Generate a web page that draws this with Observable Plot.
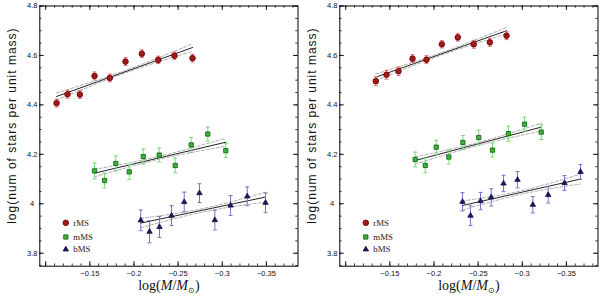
<!DOCTYPE html>
<html><head><meta charset="utf-8">
<script src="https://cdn.jsdelivr.net/npm/d3@7"></script>
<script src="https://cdn.jsdelivr.net/npm/@observablehq/plot@0.6"></script>
<style>
body{margin:0;background:#fff;}
#wrap{display:flex;width:600px;height:297px;}
</style></head><body><div id="wrap"></div>
<script>
// ---------- data ----------
const seriesNames = ["rMS", "mMS", "bMS"];
const xTitle = "log(M/M⊙)";
const yTitle = "log(num of stars per unit mass)";
const xDomain = [-0.0933, -0.3858];
const yDomain = [3.7475, 4.8];
const xMajorTicks = [-0.1, -0.15, -0.2, -0.25, -0.3, -0.35];
const xTickLabels = [-0.15, -0.2, -0.25, -0.3, -0.35];
const xMinorTicks = [-0.10, -0.11, -0.12, -0.13, -0.14, -0.15, -0.16, -0.17, -0.18, -0.19, -0.20, -0.21, -0.22, -0.23, -0.24, -0.25, -0.26, -0.27, -0.28, -0.29, -0.30, -0.31, -0.32, -0.33, -0.34, -0.35, -0.36, -0.37, -0.38];
const yMajorTicks = [3.8, 4.0, 4.2, 4.4, 4.6, 4.8];
const yMinorTicks = [3.75, 3.8, 3.85, 3.9, 3.95, 4.0, 4.05, 4.1, 4.15, 4.2, 4.25, 4.3, 4.35, 4.4, 4.45, 4.5, 4.55, 4.6, 4.65, 4.7, 4.75, 4.8];

// left panel
const leftRmsX = [-0.1123, -0.1247, -0.1387, -0.1553, -0.1726, -0.1904, -0.2089, -0.2275, -0.2459, -0.2663];
const leftRmsY = [4.407, 4.443, 4.442, 4.517, 4.509, 4.575, 4.607, 4.582, 4.599, 4.589];
const leftRmsErr = [0.016, 0.016, 0.016, 0.016, 0.016, 0.016, 0.015, 0.015, 0.015, 0.016];
const leftMmsX = [-0.1553, -0.1666, -0.1794, -0.1946, -0.2105, -0.2286, -0.2467, -0.2648, -0.2836, -0.3040];
const leftMmsY = [4.133, 4.094, 4.163, 4.129, 4.191, 4.197, 4.155, 4.238, 4.282, 4.215];
const leftMmsErr = [0.032, 0.030, 0.030, 0.030, 0.030, 0.028, 0.030, 0.030, 0.028, 0.028];
const leftBmsX = [-0.2077, -0.2176, -0.2289, -0.2425, -0.2569, -0.2742, -0.2916, -0.3094, -0.3283, -0.3490];
const leftBmsY = [3.933, 3.887, 3.906, 3.952, 4.007, 4.043, 3.934, 3.993, 4.030, 4.004];
const leftBmsErr = [0.042, 0.045, 0.042, 0.040, 0.040, 0.038, 0.040, 0.040, 0.038, 0.040];
// fitted lines [start, end] and dashed bands [start, middle, end]
const leftFitX = [[-0.1123, -0.2663], [-0.1553, -0.3040], [-0.2077, -0.3490]];
const leftFitY = [[4.434, 4.632], [4.124, 4.249], [3.922, 4.027]];
const leftBandX = [[-0.1123, -0.1893, -0.2663], [-0.1553, -0.2297, -0.3040], [-0.2077, -0.2784, -0.3490]];
const leftBandHi = [[4.448, 4.538, 4.647], [4.139, 4.193, 4.265], [3.941, 3.981, 4.047]];
const leftBandLo = [[4.420, 4.528, 4.617], [4.109, 4.181, 4.233], [3.903, 3.967, 4.007]];

// right panel
const rightRmsX = [-0.1341, -0.1462, -0.1598, -0.1757, -0.1915, -0.2089, -0.2270, -0.2451, -0.2633, -0.2822];
const rightRmsY = [4.496, 4.522, 4.536, 4.587, 4.583, 4.645, 4.673, 4.645, 4.653, 4.680];
const rightRmsErr = [0.018, 0.018, 0.017, 0.016, 0.016, 0.015, 0.015, 0.016, 0.016, 0.016];
const rightMmsX = [-0.1787, -0.1901, -0.2025, -0.2168, -0.2327, -0.2507, -0.2663, -0.2844, -0.3026, -0.3215];
const rightMmsY = [4.179, 4.155, 4.229, 4.189, 4.248, 4.268, 4.217, 4.284, 4.322, 4.290];
const rightMmsErr = [0.030, 0.030, 0.028, 0.028, 0.028, 0.030, 0.028, 0.030, 0.028, 0.030];
const rightBmsX = [-0.2323, -0.2414, -0.2527, -0.2648, -0.2788, -0.2946, -0.3120, -0.3294, -0.3479, -0.3660];
const rightBmsY = [4.008, 3.952, 4.011, 4.026, 4.082, 4.097, 3.996, 4.036, 4.084, 4.129];
const rightBmsErr = [0.037, 0.040, 0.035, 0.035, 0.033, 0.033, 0.033, 0.033, 0.030, 0.030];
const rightFitX = [[-0.1341, -0.2822], [-0.1787, -0.3215], [-0.2323, -0.3660]];
const rightFitY = [[4.512, 4.700], [4.175, 4.310], [3.993, 4.100]];
const rightBandX = [[-0.1341, -0.2082, -0.2822], [-0.1787, -0.2501, -0.3215], [-0.2323, -0.2992, -0.3660]];
const rightBandHi = [[4.525, 4.611, 4.713], [4.190, 4.248, 4.326], [4.011, 4.053, 4.120]];
const rightBandLo = [[4.499, 4.601, 4.687], [4.160, 4.236, 4.294], [3.975, 4.039, 4.080]];

// ---------- styling ----------
const symbols = ["circle", "square", "triangle"];
const radii = [2.8, 2.4, 2.0];
const fills = ["#a81818", "#3cb43c", "#1b1b60"];
const strokes = ["#5a0000", "#0b5a0b", "#0d0d3a"];
const errColors = ["#ef6a6a", "#74dc74", "#7474cc"];

const W = 300, H = 297, mL = 39.3, mR = 2.5, mT = 5.5, mB = 31.3;
const fh = H - mT - mB, fw = W - mL - mR;
const capSymbol = {draw(ctx) { ctx.moveTo(-2, 0); ctx.lineTo(2, 0); }};

function series(xs, ys, es) {
  return xs.map((x, i) => ({x, y: ys[i], e: es[i]}));
}

function panel(sets, fitX, fitY, bandX, bandHi, bandLo) {
  const marks = [];
  // ticks (inward on all sides)
  marks.push(Plot.tickX(xMinorTicks, {x: d => d, insetTop: fh - 2.2, stroke: "black", strokeWidth: 0.8}));
  marks.push(Plot.tickX(xMinorTicks, {x: d => d, insetBottom: fh - 2.2, stroke: "black", strokeWidth: 0.8}));
  marks.push(Plot.tickX(xMajorTicks, {x: d => d, insetTop: fh - 4.5, stroke: "black", strokeWidth: 0.9}));
  marks.push(Plot.tickX(xMajorTicks, {x: d => d, insetBottom: fh - 4.5, stroke: "black", strokeWidth: 0.9}));
  marks.push(Plot.tickY(yMinorTicks, {y: d => d, insetRight: fw - 2.2, stroke: "black", strokeWidth: 0.8}));
  marks.push(Plot.tickY(yMinorTicks, {y: d => d, insetLeft: fw - 2.2, stroke: "black", strokeWidth: 0.8}));
  marks.push(Plot.tickY(yMajorTicks, {y: d => d, insetRight: fw - 4.5, stroke: "black", strokeWidth: 0.9}));
  marks.push(Plot.tickY(yMajorTicks, {y: d => d, insetLeft: fw - 4.5, stroke: "black", strokeWidth: 0.9}));
  marks.push(Plot.axisX({ticks: xTickLabels, tickSize: 0, tickPadding: 4, label: null, fill: "#111",
    tickFormat: d => (d < 0 ? "\u2212" : "") + Math.abs(d), fontSize: 7.5, fontFamily: "Liberation Sans"}));
  marks.push(Plot.axisY({ticks: yMajorTicks, tickSize: 0, tickPadding: 7.6, label: null, textAnchor: "middle", fill: "#111",
    tickFormat: d => String(+d.toFixed(2)), fontSize: 7.5, fontFamily: "Liberation Sans"}));
  // fits
  for (let k = 0; k < 3; k++) {
    const hi = bandX[k].map((x, i) => ({x, y: bandHi[k][i]}));
    const lo = bandX[k].map((x, i) => ({x, y: bandLo[k][i]}));
    marks.push(Plot.line(hi, {x: "x", y: "y", curve: "natural", stroke: "#999", strokeWidth: 0.8, strokeDasharray: "3,2"}));
    marks.push(Plot.line(lo, {x: "x", y: "y", curve: "natural", stroke: "#999", strokeWidth: 0.8, strokeDasharray: "3,2"}));
    const fit = fitX[k].map((x, i) => ({x, y: fitY[k][i]}));
    marks.push(Plot.line(fit, {x: "x", y: "y", stroke: "#222", strokeWidth: 1}));
  }
  // data with error bars
  sets.forEach((data, k) => {
    marks.push(Plot.ruleX(data, {x: "x", y1: d => d.y - d.e, y2: d => d.y + d.e, stroke: errColors[k], strokeWidth: 1}));
    marks.push(Plot.dot(data, {x: "x", y: d => d.y - d.e, symbol: capSymbol, fill: "none", stroke: errColors[k], strokeWidth: 1}));
    marks.push(Plot.dot(data, {x: "x", y: d => d.y + d.e, symbol: capSymbol, fill: "none", stroke: errColors[k], strokeWidth: 1}));
    marks.push(Plot.dot(data, {x: "x", y: "y", symbol: symbols[k], r: radii[k], fill: fills[k], stroke: strokes[k], strokeWidth: 0.8}));
  });
  // legend
  const legendDy = [-43.4, -29.2, -16.8];
  seriesNames.forEach((name, k) => {
    marks.push(Plot.dot([name], {frameAnchor: "bottom-left", dx: 26, dy: legendDy[k], symbol: symbols[k], r: radii[k], fill: fills[k], stroke: strokes[k], strokeWidth: 0.8}));
    marks.push(Plot.text([name], {frameAnchor: "bottom-left", dx: 33.5, dy: legendDy[k], text: d => d, textAnchor: "start", lineAnchor: "middle", fontFamily: "Liberation Serif", fontSize: 8.8, fill: "#222"}));
  });
  // titles
  marks.push(Plot.text([xTitle], {frameAnchor: "bottom", dy: 19.8, text: d => d, textAnchor: "middle", lineAnchor: "middle", fontFamily: "Liberation Serif", fontSize: 14, fill: "#111"}));
  marks.push(Plot.text([yTitle], {frameAnchor: "left", dx: -27.3, dy: -10.5, rotate: -90, text: d => d, textAnchor: "middle", lineAnchor: "middle", fontFamily: "Liberation Sans", fontSize: 12, fill: "#111"}));
  marks.push(Plot.frame({stroke: "black", strokeWidth: 1}));

  const svg = Plot.plot({
    width: W, height: H, marginLeft: mL, marginRight: mR, marginTop: mT, marginBottom: mB,
    x: {domain: xDomain, axis: null},
    y: {domain: yDomain, axis: null},
    style: {background: "white", overflow: "visible"},
    marks
  });
  // rich text for titles
  d3.select(svg).selectAll("text").each(function () {
    const t = d3.select(this);
    if (t.text() === xTitle) {
      t.text(null);
      t.append("tspan").text("log(");
      t.append("tspan").attr("font-style", "italic").text("M");
      t.append("tspan").text("/");
      t.append("tspan").attr("font-style", "italic").text("M");
      t.append("tspan").attr("font-size", "8px").attr("dy", "3").text("⊙");
      t.append("tspan").attr("dy", "-3").text(")");
    } else if (t.text() === yTitle) {
      t.attr("letter-spacing", "1px");
    }
  });
  return svg;
}

const leftSets = [series(leftRmsX, leftRmsY, leftRmsErr), series(leftMmsX, leftMmsY, leftMmsErr), series(leftBmsX, leftBmsY, leftBmsErr)];
const rightSets = [series(rightRmsX, rightRmsY, rightRmsErr), series(rightMmsX, rightMmsY, rightMmsErr), series(rightBmsX, rightBmsY, rightBmsErr)];
const wrap = document.getElementById("wrap");
wrap.appendChild(panel(leftSets, leftFitX, leftFitY, leftBandX, leftBandHi, leftBandLo));
wrap.appendChild(panel(rightSets, rightFitX, rightFitY, rightBandX, rightBandHi, rightBandLo));
</script></body></html>
